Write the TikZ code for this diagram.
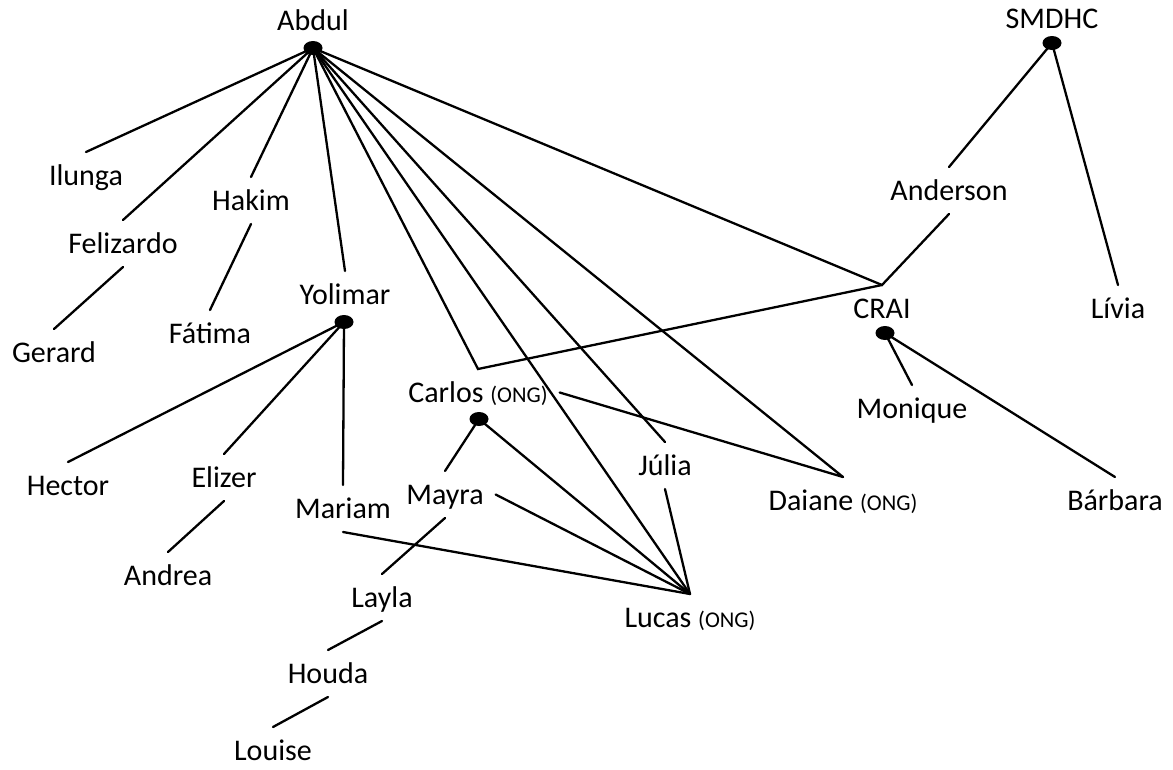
\documentclass[tikz,border=0pt]{standalone}
\usepackage{fontspec}
\setmainfont{Carlito}
\usetikzlibrary{shapes.geometric}
\newcommand{\ongtag}{{\fontsize{22.5}{27}\selectfont (ONG)}}
\begin{document}
\begin{tikzpicture}[x=1pt,y=-1pt,
  lbl/.style={anchor=base, font=\fontsize{30}{36}\selectfont, text height=21pt, text depth=2pt, inner sep=0pt, outer sep=12pt},
  dot/.style={ellipse, fill=black, minimum width=19pt, minimum height=14pt, inner sep=0pt},
  link/.style={line width=2.3pt, line cap=round, line join=miter}]
\useasboundingbox (0,0) rectangle (1173,769);
% labels
\node[lbl] (abdul) at (313,30) {Abdul};
\node[lbl] (smdhc) at (1052,28) {SMDHC};
\node[lbl] (ilunga) at (86,185) {Ilunga};
\node[lbl] (felizardo) at (123,253) {Felizardo};
\node[lbl] (hakim) at (251,210) {Hakim};
\node[lbl] (gerard) at (54,362) {Gerard};
\node[lbl] (fatima) at (210,343) {Fátima};
\node[lbl] (yolimar) at (345,304) {Yolimar};
\node[lbl] (anderson) at (949,200) {Anderson};
\node[lbl] (crai) at (882,318) {CRAI};
\node[lbl] (livia) at (1118,318) {Lívia};
\node[lbl] (monique) at (912,418) {Monique};
\node[lbl] (barbara) at (1115,510) {Bárbara};
\node[lbl] (carlos) at (478,402) {Carlos \ongtag};
\node[lbl] (hector) at (68,495) {Hector};
\node[lbl] (elizer) at (224,487) {Elizer};
\node[lbl] (mariam) at (343,518) {Mariam};
\node[lbl] (mayra) at (445,504) {Mayra};
\node[lbl] (julia) at (665,475) {Júlia};
\node[lbl] (daiane) at (843,510) {Daiane \ongtag};
\node[lbl] (andrea) at (168,585) {Andrea};
\node[lbl] (layla) at (382,607) {Layla};
\node[lbl] (lucas) at (690,627) {Lucas \ongtag};
\node[lbl] (houda) at (328,683) {Houda};
\node[lbl] (louise) at (273,760) {Louise};
% dots
\node[dot] (abdulDot) at (313,48) {};
\node[dot] (smdhcDot) at (1052,43) {};
\node[dot] (yolimarDot) at (344,322) {};
\node[dot] (craiDot) at (885,333) {};
\node[dot] (carlosDot) at (479,419) {};
% connectors
\draw[link] (abdulDot.center) -- (ilunga.north);
\draw[link] (abdulDot.center) -- (felizardo.north);
\draw[link] (abdulDot.center) -- (hakim.north);
\draw[link] (abdulDot.center) -- (yolimar.north);
\draw[link] (abdulDot.center) -- (carlos.north) -- (crai.north);
\draw[link] (abdulDot.center) -- (lucas.north);
\draw[link] (abdulDot.center) -- (julia.north);
\draw[link] (abdulDot.center) -- (daiane.north);
\draw[link] (abdulDot.center) -- (crai.north) -- (anderson.south);
\draw[link] (felizardo.south) -- (gerard.north);
\draw[link] (hakim.south) -- (fatima.north);
\draw[link] (yolimarDot.center) -- (hector.north);
\draw[link] (yolimarDot.center) -- (elizer.north);
\draw[link] (yolimarDot.center) -- (mariam.north);
\draw[link] (elizer.south) -- (andrea.north);
\draw[link] (smdhcDot.center) -- (anderson.north);
\draw[link] (smdhcDot.center) -- (livia.north);
\draw[link] (craiDot.center) -- (monique.north);
\draw[link] (craiDot.center) -- (barbara.north);
\draw[link] (carlos.east) -- (daiane.north);
\draw[link] (carlosDot.center) -- (mayra.north);
\draw[link] (carlosDot.center) -- (lucas.north);
\draw[link] (mayra.east) -- (lucas.north);
\draw[link] (mariam.south) -- (lucas.north);
\draw[link] (julia.south) -- (lucas.north);
\draw[link] (mayra.south) -- (layla.north);
\draw[link] (layla.south) -- (houda.north);
\draw[link] (houda.south) -- (louise.north);
\end{tikzpicture}
\end{document}
